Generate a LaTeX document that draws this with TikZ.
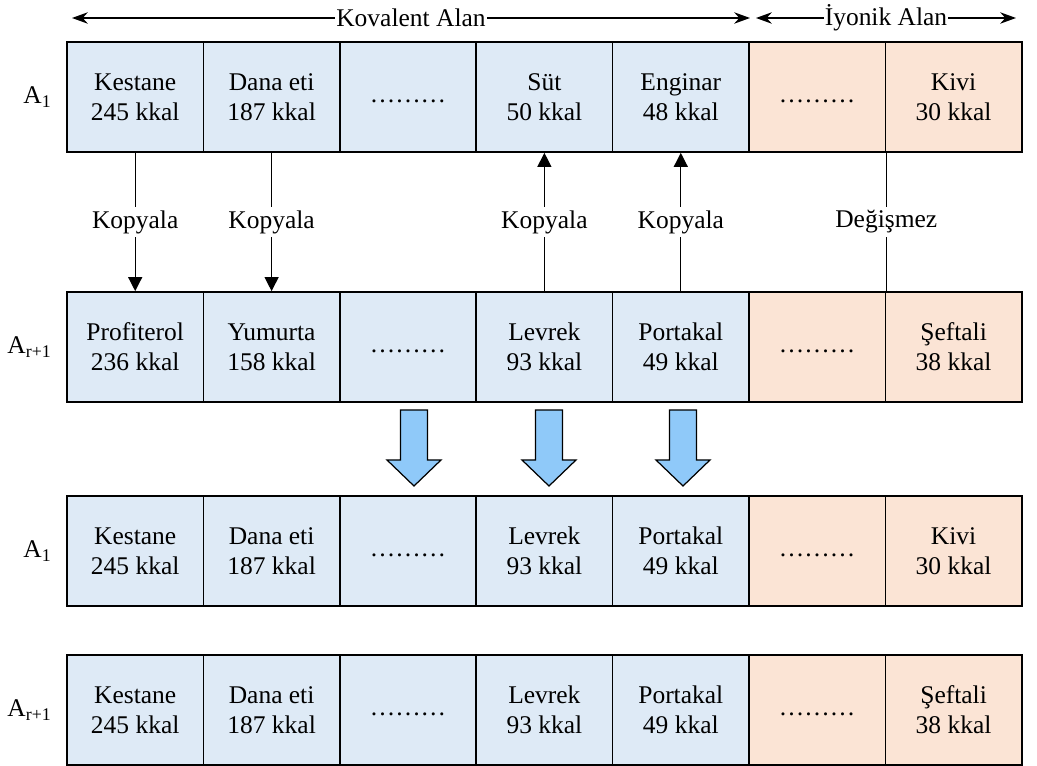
\documentclass[tikz,border=0pt]{standalone}
\usepackage{fontspec}
\setmainfont{LiberationSerif}[Extension=.ttf,UprightFont=*-Regular,BoldFont=*-Bold,ItalicFont=*-Italic]
\usetikzlibrary{arrows.meta}
\definecolor{covBlue}{HTML}{DEEAF6}
\definecolor{ionPeach}{HTML}{FBE4D5}
\definecolor{arrowBlue}{HTML}{8FC9F9}
\begin{document}
\begin{tikzpicture}[font=\rmfamily\fontsize{14.5}{17}\selectfont]
\tikzstyle{cov}=[rectangle,draw,line width=1pt,fill=covBlue,minimum width=2.728cm,minimum height=2.2cm,align=center,inner sep=0pt]
\tikzstyle{ion}=[rectangle,draw,line width=1pt,fill=ionPeach,minimum width=2.728cm,minimum height=2.2cm,align=center,inner sep=0pt]
\tikzstyle{rowLabel}=[anchor=east,inner sep=0pt]
\tikzstyle{copyArrow}=[line width=0.7pt,-{Triangle[length=8pt,width=8pt]}]
\tikzstyle{areaArrow}=[line width=0.7pt,{Stealth[length=9pt,width=6.5pt]}-{Stealth[length=9pt,width=6.5pt]}]
\tikzstyle{midLabel}=[midway,fill=white,inner sep=2pt]
\tikzstyle{bigArrow}=[draw,line width=0.7pt,fill=arrowBlue]

\useasboundingbox (0,0) rectangle (20.74,15.32);

%area labels on top.
\coordinate (kovL) at (1.44,14.96);
\coordinate (kovR) at (15.0,14.96);
\coordinate (ionL) at (15.12,14.96);
\coordinate (ionR) at (20.32,14.96);
\draw[areaArrow] (kovL) -- (kovR) node[midway,fill=white,inner sep=0.5pt] {Kovalent Alan};
\draw[areaArrow] (ionL) -- (ionR) node[midway,fill=white,inner sep=0.5pt] {İyonik Alan};

%first row: A_1
\node[rowLabel] (lblA) at (1.04,13.38) {A\textsubscript{1}};
\node[cov] (aKestane) at (2.704,13.38) {Kestane\\245 kkal};
\node[cov] (aDana)    at (5.432,13.38) {Dana eti\\187 kkal};
\node[cov] (aDots)    at (8.160,13.38) {\strut………};
\node[cov] (aSut)     at (10.888,13.38) {Süt\\50 kkal};
\node[cov] (aEnginar) at (13.616,13.38) {Enginar\\48 kkal};
\node[ion] (aIonDots) at (16.344,13.38) {\strut………};
\node[ion] (aKivi)    at (19.072,13.38) {Kivi\\30 kkal};

%second row: A_{r+1}
\node[rowLabel] (lblB) at (1.04,8.38) {A\textsubscript{r+1}};
\node[cov] (bProfiterol) at (2.704,8.38) {Profiterol\\236 kkal};
\node[cov] (bYumurta)    at (5.432,8.38) {Yumurta\\158 kkal};
\node[cov] (bDots)       at (8.160,8.38) {\strut………};
\node[cov] (bLevrek)     at (10.888,8.38) {Levrek\\93 kkal};
\node[cov] (bPortakal)   at (13.616,8.38) {Portakal\\49 kkal};
\node[ion] (bIonDots)    at (16.344,8.38) {\strut………};
\node[ion] (bSeftali)    at (19.072,8.38) {Şeftali\\38 kkal};

%copy arrows between the two rows
\draw[copyArrow] (aKestane) -- (bProfiterol) node[midLabel] {Kopyala};
\draw[copyArrow] (aDana) -- (bYumurta) node[midLabel] {Kopyala};
\draw[copyArrow] (bLevrek) -- (aSut) node[midLabel] {Kopyala};
\draw[copyArrow] (bPortakal) -- (aEnginar) node[midLabel] {Kopyala};
\draw[line width=0.7pt] (aIonDots.south east) -- (bIonDots.north east) node[midLabel] {Değişmez};

%block arrows
\draw[bigArrow,shift={(8.28,7.12)}] (-0.27,0) -- (0.27,0) -- (0.27,-1.0) -- (0.54,-1.0) -- (0,-1.52) -- (-0.54,-1.0) -- (-0.27,-1.0) -- cycle;
\draw[bigArrow,shift={(10.98,7.12)}] (-0.27,0) -- (0.27,0) -- (0.27,-1.0) -- (0.54,-1.0) -- (0,-1.52) -- (-0.54,-1.0) -- (-0.27,-1.0) -- cycle;
\draw[bigArrow,shift={(13.66,7.12)}] (-0.27,0) -- (0.27,0) -- (0.27,-1.0) -- (0.54,-1.0) -- (0,-1.52) -- (-0.54,-1.0) -- (-0.27,-1.0) -- cycle;

%third row: new A_1
\node[rowLabel] (lblC) at (1.04,4.30) {A\textsubscript{1}};
\node[cov] (cKestane)  at (2.704,4.30) {Kestane\\245 kkal};
\node[cov] (cDana)     at (5.432,4.30) {Dana eti\\187 kkal};
\node[cov] (cDots)     at (8.160,4.30) {\strut………};
\node[cov] (cLevrek)   at (10.888,4.30) {Levrek\\93 kkal};
\node[cov] (cPortakal) at (13.616,4.30) {Portakal\\49 kkal};
\node[ion] (cIonDots)  at (16.344,4.30) {\strut………};
\node[ion] (cKivi)     at (19.072,4.30) {Kivi\\30 kkal};

%fourth row: new A_{r+1}
\node[rowLabel] (lblD) at (1.04,1.12) {A\textsubscript{r+1}};
\node[cov] (dKestane)  at (2.704,1.12) {Kestane\\245 kkal};
\node[cov] (dDana)     at (5.432,1.12) {Dana eti\\187 kkal};
\node[cov] (dDots)     at (8.160,1.12) {\strut………};
\node[cov] (dLevrek)   at (10.888,1.12) {Levrek\\93 kkal};
\node[cov] (dPortakal) at (13.616,1.12) {Portakal\\49 kkal};
\node[ion] (dIonDots)  at (16.344,1.12) {\strut………};
\node[ion] (dSeftali)  at (19.072,1.12) {Şeftali\\38 kkal};

\end{tikzpicture}
\end{document}
